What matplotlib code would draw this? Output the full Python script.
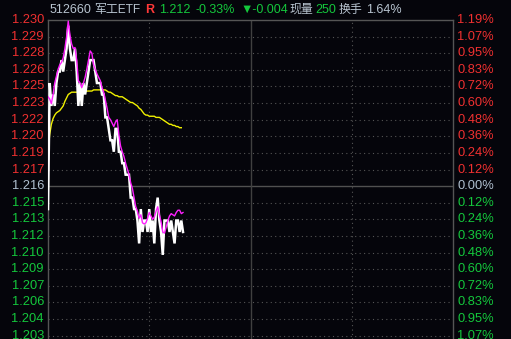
import matplotlib
matplotlib.use("Agg")
import matplotlib.pyplot as plt
import numpy as np

# ---------------- data ----------------
pre_close = 1.216
tick_step = 0.00145
n_minutes = 241

price = [1.214, 1.225, 1.223, 1.224, 1.223, 1.225, 1.226, 1.226, 1.227, 1.226,
         1.227, 1.228, 1.230, 1.228, 1.227, 1.227, 1.228, 1.226, 1.223, 1.225,
         1.223, 1.225, 1.224, 1.225, 1.226, 1.227, 1.227, 1.227, 1.226, 1.225,
         1.225, 1.225, 1.224, 1.224, 1.222, 1.222, 1.221, 1.220, 1.220, 1.219,
         1.221, 1.221, 1.219, 1.219, 1.218, 1.218, 1.217, 1.217, 1.217, 1.215,
         1.215, 1.214, 1.214, 1.213, 1.211, 1.214, 1.212, 1.213, 1.213, 1.212,
         1.214, 1.212, 1.213, 1.211, 1.214, 1.215, 1.213, 1.212, 1.210, 1.213,
         1.213, 1.213, 1.212, 1.213, 1.212, 1.211, 1.213, 1.213, 1.212, 1.213,
         1.212]

iopv = [1.2238, 1.2236, 1.2232, 1.2240, 1.2250, 1.2256, 1.2262, 1.2266, 1.2268, 1.2272,
        1.2280, 1.2290, 1.2304, 1.2292, 1.2284, 1.2280, 1.2281, 1.2270, 1.2252, 1.2250,
        1.2246, 1.2250, 1.2255, 1.2262, 1.2270, 1.2278, 1.2276, 1.2266, 1.2262, 1.2258,
        1.2255, 1.2252, 1.2246, 1.2242, 1.2235, 1.2228, 1.2220, 1.2218, 1.2215, 1.2212,
        1.2216, 1.2218, 1.2205, 1.2195, 1.2190, 1.2186, 1.2180, 1.2175, 1.2170, 1.2163,
        1.2158, 1.2150, 1.2142, 1.2138, 1.2132, 1.2135, 1.2128, 1.2127, 1.2128, 1.2132,
        1.2137, 1.2134, 1.2131, 1.2133, 1.2138, 1.2142, 1.2135, 1.2129, 1.2120, 1.2119,
        1.2124, 1.2130, 1.2134, 1.2136, 1.2135, 1.2134, 1.2137, 1.2139, 1.2139, 1.2136,
        1.2137]

avg_line = [1.2190, 1.2205, 1.2214, 1.2219, 1.2222, 1.2224, 1.2225, 1.2226, 1.2228, 1.2230,
            1.2234, 1.2237, 1.2240, 1.2241, 1.2242, 1.2242, 1.2242, 1.2242, 1.2242, 1.2242,
            1.2242, 1.2242, 1.2242, 1.2243, 1.2243, 1.2243, 1.2243, 1.2244, 1.2244, 1.2244,
            1.2244, 1.2244, 1.2244, 1.2244, 1.2244, 1.2243, 1.2242, 1.2242, 1.2241, 1.2240,
            1.2239, 1.2239, 1.2238, 1.2238, 1.2238, 1.2237, 1.2236, 1.2235, 1.2234, 1.2233,
            1.2233, 1.2232, 1.2231, 1.2230, 1.2228, 1.2227, 1.2225, 1.2223, 1.2222, 1.2222,
            1.2221, 1.2221, 1.2221, 1.2221, 1.2220, 1.2220, 1.2220, 1.2219, 1.2218, 1.2217,
            1.2216, 1.2215, 1.2214, 1.2214, 1.2213, 1.2213, 1.2212, 1.2212, 1.2211, 1.2211]

left_labels_up = ["1.217", "1.219", "1.220", "1.222", "1.223", "1.225", "1.226", "1.228", "1.229", "1.230"]
left_labels_down = ["1.215", "1.213", "1.212", "1.210", "1.209", "1.207", "1.206", "1.204", "1.203"]
right_labels_up = ["0.12%", "0.24%", "0.36%", "0.48%", "0.60%", "0.72%", "0.83%", "0.95%", "1.07%", "1.19%"]
right_labels_down = ["0.12%", "0.24%", "0.36%", "0.48%", "0.60%", "0.72%", "0.83%", "0.95%", "1.07%"]
center_label = "1.216"
center_pct = "0.00%"

title_parts = [("512660", "#b8c4d0", False, 9.0), ("军工ETF", "#b8c4d0", False, 8.6),
               ("R", "#ff3838", True, 9.0),
               ("1.212", "#14c83c", False, 9.0), ("-0.33%", "#14c83c", False, 9.0),
               ("▼-0.004", "#14c83c", False, 9.0), ("现量", "#b8c4d0", False, 8.6),
               ("250", "#14c83c", False, 9.0), ("换手", "#b8c4d0", False, 8.6),
               ("1.64%", "#b8c4d0", False, 9.0)]
title_x_px = [50, 94, 145, 159, 196, 240, 289, 315, 339, 366]

# ---------------- style ----------------
BG = "#05050b"
RED = "#f03030"
GREEN = "#14c83c"
GRAYTXT = "#b0c0d0"
GRID = "#555555"
FONT = ["Liberation Sans", "Noto Sans CJK SC", "DejaVu Sans"]
plt.rcParams["font.family"] = FONT

W, H = 511, 339
fig = plt.figure(figsize=(W / 100, H / 100), dpi=100, facecolor=BG)
ax = fig.add_axes([48 / W, 0, 405 / W, 319 / H], facecolor=BG)

top = pre_close + 10 * tick_step
bottom = top - 19.2 * tick_step
ax.set_ylim(bottom, top)
ax.set_xlim(0, n_minutes - 1)

# grid
for k in range(-9, 11):
    yv = pre_close + k * tick_step
    if k == 0:
        ax.axhline(yv, color="#505050", lw=1.0, zorder=1)
    elif k != 10:
        ax.axhline(yv, color=GRID, lw=0.8, ls=(0, (1, 3)), zorder=1)
for xv in [60, 180]:
    ax.axvline(xv, color=GRID, lw=0.8, ls=(0, (1, 3)), zorder=1)
ax.axvline(120, color="#404040", lw=1.0, zorder=1)

x_p = np.arange(len(price))
x_i = np.arange(len(iopv))
x_a = np.arange(len(avg_line))
ax.plot(x_p, price, color="white", lw=1.8, zorder=3, solid_joinstyle="miter")
ax.plot(x_i, iopv, color="#ff20ff", lw=1.0, zorder=4)
ax.plot(x_a, avg_line, color="#f0f000", lw=1.0, zorder=2)

for s in ["left", "top", "right"]:
    ax.spines[s].set_color("#555555")
    ax.spines[s].set_linewidth(1.0)
ax.spines["bottom"].set_visible(False)
ax.set_xticks([])
ax.set_yticks([])

# axis labels
fs = 9.3
def y_to_fig(yv):
    return (yv - bottom) / (top - bottom) * (319 / H)

for k, lab in enumerate(left_labels_up, start=1):
    yf = y_to_fig(pre_close + k * tick_step)
    fig.text(44 / W, yf, lab, color=RED, fontsize=fs, ha="right", va="center")
for k, lab in enumerate(right_labels_up, start=1):
    yf = y_to_fig(pre_close + k * tick_step)
    fig.text(457 / W, yf, lab, color=RED, fontsize=fs, ha="left", va="center")
for k, lab in enumerate(left_labels_down, start=1):
    yf = y_to_fig(pre_close - k * tick_step)
    fig.text(44 / W, yf, lab, color=GREEN, fontsize=fs, ha="right", va="center")
for k, lab in enumerate(right_labels_down, start=1):
    yf = y_to_fig(pre_close - k * tick_step)
    fig.text(457 / W, yf, lab, color=GREEN, fontsize=fs, ha="left", va="center")
yf0 = y_to_fig(pre_close)
fig.text(44 / W, yf0, center_label, color=GRAYTXT, fontsize=fs, ha="right", va="center")
fig.text(457 / W, yf0, center_pct, color=GRAYTXT, fontsize=fs, ha="left", va="center")

# title
for (txt, col, bold, size), xp in zip(title_parts, title_x_px):
    fig.text(xp / W, 1 - 10 / H, txt, color=col, fontsize=size, ha="left", va="center",
             fontweight="bold" if bold else "normal")

fig.savefig("out.png", dpi=100, facecolor=BG)
